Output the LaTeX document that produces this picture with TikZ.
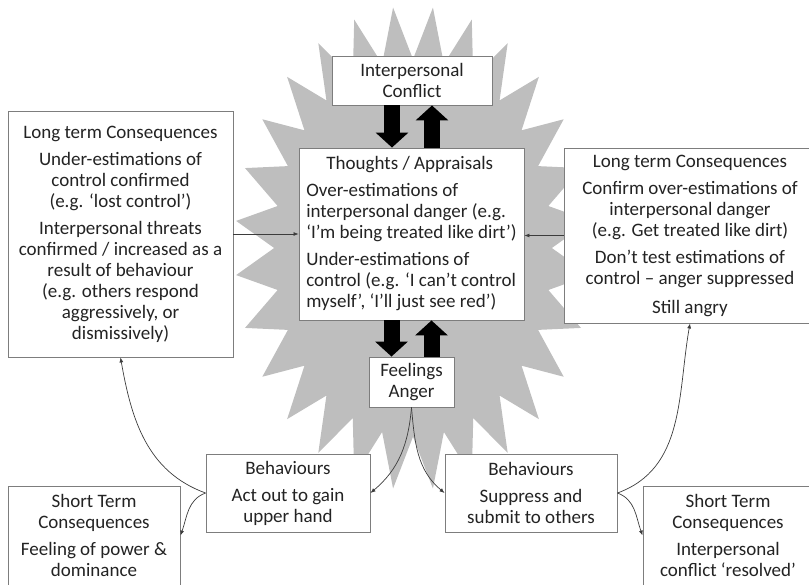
\documentclass[tikz,border=0pt]{standalone}
\usepackage{fontspec}
\setmainfont{Carlito}
\usetikzlibrary{arrows.meta}
\definecolor{stargray}{RGB}{190,190,190}
\definecolor{boxline}{RGB}{125,125,125}
\definecolor{txt}{RGB}{35,35,35}
\definecolor{conn}{RGB}{60,60,60}
\begin{document}
\begin{tikzpicture}[x=1pt,y=1pt,
  box/.style={draw=boxline, line width=0.9pt, fill=white, inner sep=0pt, align=center, text=txt, font=\fontsize{19}{21}\selectfont},
  connarrow/.style={draw=conn, line width=0.7pt, -{Latex[length=5pt,width=4pt]}},
  blockarr/.style={draw=black, line width=16pt, -{Triangle[length=15pt,width=32pt]}}]
\useasboundingbox (0,0) rectangle (809,-584);
\clip (0,0) rectangle (809,-584);
% starburst
\foreach \i in {0,...,55} {
  \pgfmathsetmacro{\rr}{isodd(\i) ? 1 : 0.78}
  \pgfmathsetmacro{\aa}{\i*45/7}
  \pgfmathsetmacro{\px}{413+178*\rr*cos(\aa)}
  \pgfmathsetmacro{\py}{-248+242*\rr*sin(\aa)}
  \coordinate (sb\i) at (\px,\py);
}
\fill[stargray] (sb0) \foreach \i in {1,...,55} { -- (sb\i) } -- cycle;
% boxes
\node[box, minimum width=160pt, minimum height=49pt] (ic) at (412,-80.5) {Interpersonal\\Conflict};
\node[box, minimum width=225pt, minimum height=246pt] (ltcL) at (120.5,-234)
  {Long term Consequences\\[6pt]Under-estimations of\\control confirmed\\(e.g. ‘lost control’)\\[6pt]Interpersonal threats\\confirmed / increased as a\\result of behaviour\\(e.g. others respond\\aggressively, or\\dismissively)};
\node[box, minimum width=225pt, minimum height=172pt, align=left] (th) at (411.5,-234)
  {\makebox[207pt]{Thoughts / Appraisals}\\[6pt]Over-estimations of\\interpersonal danger (e.g.\\‘I’m being treated like dirt’)\\[6pt]Under-estimations of\\control (e.g. ‘I can’t control\\myself’, ‘I’ll just see red’)};
\node[box, minimum width=252pt, minimum height=175pt] (ltcR) at (690,-235.5)
  {Long term Consequences\\[6pt]Confirm over-estimations of\\interpersonal danger\\(e.g. Get treated like dirt)\\[6pt]Don’t test estimations of\\control – anger suppressed\\[8pt]Still angry};
\node[box, minimum width=85pt, minimum height=50pt] (fe) at (411.5,-382) {Feelings\\Anger};
\node[box, minimum width=164pt, minimum height=78pt] (bhL) at (288,-493) {Behaviours\\[6pt]Act out to gain\\upper hand};
\node[box, minimum width=172pt, minimum height=78pt] (bhR) at (531,-493) {Behaviours\\[6pt]Suppress and\\submit to others};
\node[box, minimum width=172pt, minimum height=99pt] (stL) at (94,-535.5) {Short Term\\Consequences\\[6pt]Feeling of power \&\\dominance};
\node[box, minimum width=170pt, minimum height=99pt] (stR) at (728,-535.5) {Short Term\\Consequences\\[6pt]Interpersonal\\conflict ‘resolved’};
% block arrows
\draw[blockarr] ([xshift=-20pt]ic.south) -- ([xshift=-20pt]ic.south |- th.north);
\draw[blockarr] ([xshift=20pt]ic.south |- th.north) -- ([xshift=20pt]ic.south);
\draw[blockarr] ([xshift=-20pt]th.south) -- ([xshift=-20pt]th.south |- fe.north);
\draw[blockarr] ([xshift=20pt]th.south |- fe.north) -- ([xshift=20pt]th.south);
% thin connectors
\draw[connarrow] (ltcL.east) -- (th.west);
\draw[connarrow] (ltcR.west) -- (ltcR.west -| th.east);
\draw[connarrow] (fe.south) to[out=-95,in=40] (bhL.east);
\draw[connarrow] (fe.south) to[out=-85,in=140] (bhR.west);
\draw[connarrow] (bhL.west) to[out=160,in=-80] (ltcL.south);
\draw[connarrow] (bhL.west) to[out=200,in=70] (stL.east);
\draw[connarrow] (bhR.east) to[out=20,in=-100] (ltcR.south);
\draw[connarrow] (bhR.east) to[out=-20,in=110] (stR.west);
\end{tikzpicture}
\end{document}
